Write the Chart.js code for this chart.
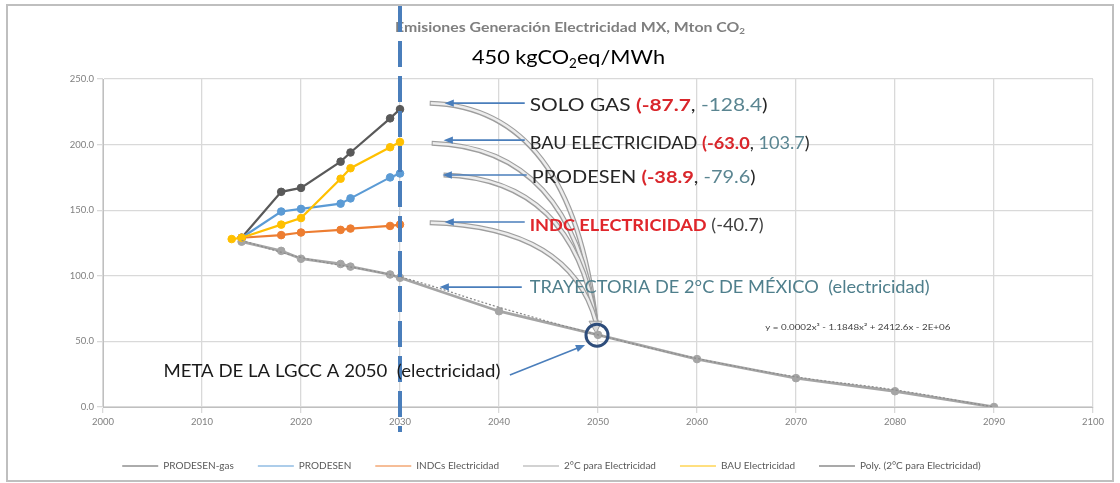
<!DOCTYPE html>
<html>
<head>
<meta charset="utf-8">
<script src="https://cdn.jsdelivr.net/npm/chart.js@4"></script>
<style>
  html, body { margin: 0; padding: 0; background: #fff; }
  #wrap { width: 1120px; height: 483px; position: relative; }
</style>
</head>
<body>
<div id="wrap"><canvas id="emisionesChart"></canvas></div>
<script>
// --- Data ---
const shortYears = [2014, 2018, 2020, 2024, 2025, 2029, 2030];
const gasValues = [129, 164, 167, 187, 194, 220, 227];        // PRODESEN-gas
const prodesenValues = [129, 149, 151, 155, 159, 175, 178];   // PRODESEN
const indcValues = [129, 131, 133, 135, 136, 138, 139];       // INDCs Electricidad
const bauYears = [2013, 2014, 2018, 2020, 2024, 2025, 2029, 2030];
const bauValues = [128, 129, 139, 144, 174, 182, 198, 202];   // BAU Electricidad
const twoDegYears = [2014, 2018, 2020, 2024, 2025, 2029, 2030, 2040, 2050, 2060, 2070, 2080, 2090];
const twoDegValues = [126, 119, 113, 109, 107, 101, 98.5, 73, 55, 36.5, 22, 12, 0];
const polyYears = [2014, 2020, 2030, 2040, 2050, 2060, 2070, 2080, 2090];
const polyValues = [127, 114, 99, 76, 55, 37, 23, 13, 0];     // Poly. trendline (dotted)

const xTicks = { min: 2000, max: 2100, step: 10 };
const yTicks = { min: 0, max: 250, step: 50 };

const seriesLabels = ['PRODESEN-gas', 'PRODESEN', 'INDCs Electricidad', '2°C para Electricidad', 'BAU Electricidad', 'Poly. (2°C para Electricidad)'];

// Annotation anchors, in chart data units (year, Mton); width = drawn text width in px
const callouts = [
  { at: [2043.1, 230.1], width: 238, parts: [['SOLO GAS ', '#262626'], ['(-87.7', '#D9262B', true], [', ', '#262626'], ['-128.4', '#5A8591'], [')', '#262626']] },
  { at: [2043.1, 201.1], width: 280, parts: [['BAU ELECTRICIDAD ', '#262626'], ['(-63.0', '#D9262B', true], [', ', '#262626'], ['103.7', '#5A8591'], [')', '#262626']] },
  { at: [2043.3, 175.2], width: 224, parts: [['PRODESEN ', '#262626'], ['(-38.9', '#D9262B', true], [', ', '#262626'], ['-79.6', '#5A8591'], [')', '#262626']] },
  { at: [2043.1, 138.7], width: 234, parts: [['INDC ELECTRICIDAD', '#E0262B', true], [' (-40.7)', '#404040']] },
  { at: [2043.1, 91.4], width: 400, parts: [['TRAYECTORIA DE 2°C DE MÉXICO  (electricidad)', '#4F7F8C']] },
  { at: [2006.1, 27.4], width: 337, parts: [['META DE LA LGCC A 2050  (electricidad)', '#1A1A1A']] }
];
const blueArrows = [
  [[2042.6, 231.6], [2034.5, 231.6]],
  [[2042.6, 203.4], [2034.4, 203.4]],
  [[2042.8, 176.8], [2034.3, 176.8]],
  [[2042.6, 141.0], [2034.5, 141.0]],
  [[2042.3, 91.4], [2034.0, 91.4]],
  [[2041.1, 24.4], [2048.7, 47.2]]
];
const grayCurveStarts = [[2033.0, 231.6], [2033.2, 201.0], [2034.4, 176.8], [2033.0, 140.5]];
const goalPoint = [2050, 55.5];

const colors = {
  gas: '#595959', prodesen: '#5B9BD5', indc: '#ED7D31', twoDeg: '#A5A5A5', bau: '#FFC000'
};

const FONT = 'Lato, "Open Sans", sans-serif';

function toPoints(xs, ys) {
  return xs.map((x, i) => ({ x: x, y: ys[i] }));
}

function lineSet(label, xs, ys, color, order, width) {
  return {
    label: label,
    data: toPoints(xs, ys),
    borderColor: color,
    backgroundColor: color,
    borderWidth: width || 2.2,
    pointRadius: 3.8,
    pointBorderWidth: 1,
    pointHoverRadius: 4,
    tension: 0,
    fill: false,
    order: order
  };
}

function measureParts(ctx, parts, size) {
  let w = 0;
  parts.forEach(p => {
    const fs = p[3] ? size * 0.62 : size;
    ctx.font = (p[2] ? 'bold ' : '') + fs + 'px ' + FONT;
    w += ctx.measureText(p[0]).width;
  });
  return w;
}

// draw a run of coloured text pieces (4th flag = subscript), stretched to a given width
function drawParts(ctx, x, y, parts, size, width) {
  const natural = measureParts(ctx, parts, size);
  const k = width ? width / natural : 1;
  ctx.save();
  ctx.translate(x, y);
  ctx.scale(k, 1);
  let cx = 0;
  parts.forEach(p => {
    const [text, color, bold, sub] = p;
    const fs = sub ? size * 0.62 : size;
    ctx.font = (bold ? 'bold ' : '') + fs + 'px ' + FONT;
    ctx.fillStyle = color;
    ctx.fillText(text, cx, sub ? size * 0.28 : 0);
    cx += ctx.measureText(text).width;
  });
  ctx.restore();
  return natural * k;
}

function arrow(ctx, x1, y1, x2, y2, color, width, head) {
  const ang = Math.atan2(y2 - y1, x2 - x1);
  ctx.strokeStyle = color;
  ctx.fillStyle = color;
  ctx.lineWidth = width;
  ctx.beginPath();
  ctx.moveTo(x1, y1);
  ctx.lineTo(x2 - Math.cos(ang) * head * 0.8, y2 - Math.sin(ang) * head * 0.8);
  ctx.stroke();
  ctx.beginPath();
  ctx.moveTo(x2, y2);
  ctx.lineTo(x2 - head * Math.cos(ang - 0.38), y2 - head * Math.sin(ang - 0.38));
  ctx.lineTo(x2 - head * Math.cos(ang + 0.38), y2 - head * Math.sin(ang + 0.38));
  ctx.closePath();
  ctx.fill();
}

const decorations = {
  id: 'decorations',
  beforeInit(chart) {
    // fixed legend box height so the plot area lands where the reference has it
    if (chart.legend) {
      const fit = chart.legend.fit;
      chart.legend.fit = function () {
        fit.call(this);
        this.height = 40;
      };
    }
  },
  beforeDraw(chart) {
    const ctx = chart.ctx;
    ctx.save();
    ctx.fillStyle = '#fff';
    ctx.fillRect(0, 0, chart.width, chart.height);
    ctx.restore();
  },
  afterDraw(chart) {
    const ctx = chart.ctx;
    const xs = chart.scales.x, ys = chart.scales.y;
    const px = v => xs.getPixelForValue(v);
    const py = v => ys.getPixelForValue(v);
    ctx.save();

    // outer frame
    ctx.strokeStyle = '#BFBFBF';
    ctx.lineWidth = 2;
    ctx.strokeRect(7, 5, chart.width - 14, chart.height - 7);

    // title
    ctx.textBaseline = 'middle';
    const titleParts = [['Emisiones Generación Electricidad MX, Mton CO', '#7F7F7F', true], ['2', '#7F7F7F', true, true]];
    drawParts(ctx, 395, 28, titleParts, 13, 350);

    // 450 kgCO2eq/MWh
    drawParts(ctx, 472, 58, [['450 kgCO', '#000'], ['2', '#000', false, true], ['eq/MWh', '#000']], 20, 193);

    // dashed 2030 line
    ctx.strokeStyle = '#4A7EBB';
    ctx.lineWidth = 4;
    ctx.setLineDash([26, 9]);
    ctx.beginPath();
    ctx.moveTo(px(2030), 6);
    ctx.lineTo(px(2030), 432);
    ctx.stroke();
    ctx.setLineDash([]);

    // gray curved block arrows towards the 2050 goal
    const gx = px(goalPoint[0]) - 2, gy = py(goalPoint[1]) - 4;
    grayCurveStarts.forEach(s => {
      const sx = px(s[0]), sy = py(s[1]);
      const cx = sx + (gx - sx) * 0.85, cy = sy + 4;
      ctx.lineCap = 'butt';
      ctx.strokeStyle = '#9E9E9E';
      ctx.lineWidth = 5;
      ctx.beginPath();
      ctx.moveTo(sx, sy);
      ctx.quadraticCurveTo(cx, cy, gx, gy - 8);
      ctx.stroke();
      ctx.strokeStyle = '#EDEDED';
      ctx.lineWidth = 2.5;
      ctx.beginPath();
      ctx.moveTo(sx + 1, sy);
      ctx.quadraticCurveTo(cx, cy, gx, gy - 8);
      ctx.stroke();
    });
    ctx.fillStyle = '#D9D9D9';
    ctx.strokeStyle = '#9E9E9E';
    ctx.lineWidth = 1;
    ctx.beginPath();
    ctx.moveTo(gx - 7, gy - 9);
    ctx.lineTo(gx + 6, gy - 9);
    ctx.lineTo(gx, gy + 3);
    ctx.closePath();
    ctx.fill();
    ctx.stroke();

    // goal circle
    ctx.strokeStyle = '#2E4D7B';
    ctx.lineWidth = 3;
    ctx.beginPath();
    ctx.arc(px(goalPoint[0]) - 1, py(goalPoint[1]) + 1, 11, 0, Math.PI * 2);
    ctx.stroke();

    // blue pointer arrows
    blueArrows.forEach(a => {
      arrow(ctx, px(a[0][0]), py(a[0][1]), px(a[1][0]), py(a[1][1]), '#4A7EBB', 1.6, 10);
    });

    // callout texts
    callouts.forEach(c => {
      drawParts(ctx, px(c.at[0]), py(c.at[1]), c.parts, 17, c.width);
    });

    // trendline equation
    drawParts(ctx, px(2066.9), py(60.2), [['y = 0.0002x³ - 1.1848x² + 2412.6x - 2E+06', '#404040']], 7.5, 185);

    ctx.restore();
  }
};

function createChart() {
  const ctx = document.getElementById('emisionesChart').getContext('2d');

  const polySet = {
    label: seriesLabels[5],
    data: toPoints(polyYears, polyValues),
    borderColor: '#8C8C8C',
    borderWidth: 1.3,
    borderDash: [2, 2],
    pointRadius: 0,
    tension: 0.4,
    fill: false,
    order: 0
  };

  const data = {
    datasets: [
      lineSet(seriesLabels[0], shortYears, gasValues, colors.gas, 5),
      lineSet(seriesLabels[1], shortYears, prodesenValues, colors.prodesen, 4),
      lineSet(seriesLabels[2], shortYears, indcValues, colors.indc, 3),
      lineSet(seriesLabels[3], twoDegYears, twoDegValues, colors.twoDeg, 2, 2.8),
      lineSet(seriesLabels[4], bauYears, bauValues, colors.bau, 1),
      polySet
    ]
  };

  const tickFont = { family: FONT, size: 9.5 };

  const options = {
    responsive: true,
    maintainAspectRatio: false,
    animation: false,
    layout: { padding: { top: 79, left: 10, right: 27, bottom: 6 } },
    scales: {
      x: {
        type: 'linear',
        min: xTicks.min,
        max: xTicks.max,
        ticks: {
          stepSize: xTicks.step,
          color: '#808080',
          font: tickFont,
          maxRotation: 0,
          callback: v => String(v)
        },
        grid: { color: '#D9D9D9', lineWidth: 1.3, tickLength: 6 },
        border: { color: '#BFBFBF' },
        afterFit: s => { s.height = 30; }
      },
      y: {
        min: yTicks.min,
        max: yTicks.max,
        ticks: {
          stepSize: yTicks.step,
          color: '#808080',
          font: tickFont,
          callback: v => Number(v).toFixed(1)
        },
        grid: { color: '#D9D9D9', lineWidth: 1.3, tickLength: 6 },
        border: { color: '#BFBFBF' },
        afterFit: s => { s.width = 93; }
      }
    },
    plugins: {
      legend: {
        position: 'bottom',
        labels: {
          usePointStyle: true,
          pointStyle: 'line',
          pointStyleWidth: 36,
          color: '#595959',
          font: { family: FONT, size: 10 },
          padding: 24,
          sort: (a, b) => a.datasetIndex - b.datasetIndex
        }
      },
      tooltip: { enabled: false },
      title: { display: false }
    }
  };

  new Chart(ctx, {
    type: 'line',
    data: data,
    options: options,
    plugins: [decorations]
  });
}

createChart();
</script>
</body>
</html>
